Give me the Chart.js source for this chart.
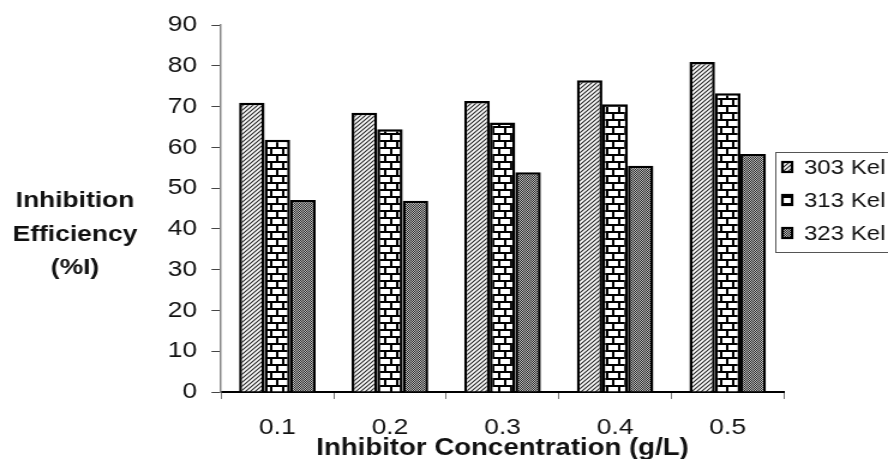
<!DOCTYPE html>
<html>
<head>
<meta charset="utf-8">
<script src="https://cdn.jsdelivr.net/npm/chart.js@4.4.1/dist/chart.umd.min.js"></script>
<style>
  html, body { margin:0; padding:0; background:#fff; overflow:hidden; }
  /* the source picture is stretched sideways, so the whole chart is too */
  #wrap { width:740px; height:459px; transform:scaleX(1.2); transform-origin:0 0; }
</style>
</head>
<body>
<div id="wrap"><canvas id="chart" width="740" height="459"></canvas></div>
<script>
const concentrations = ['0.1', '0.2', '0.3', '0.4', '0.5'];
const seriesNames = ['303 Kel', '313 Kel', '323 Kel'];
const eff303 = [71.0, 68.5, 71.4, 76.5, 81.0];
const eff313 = [61.9, 64.5, 66.1, 70.6, 73.3];
const eff323 = [47.1, 46.9, 53.9, 55.5, 58.4];
const yTicks = [0, 10, 20, 30, 40, 50, 60, 70, 80, 90];
const yTitleLines = ['Inhibition', 'Efficiency', '(%I)'];
const xTitle = 'Inhibitor Concentration (g/L)';

const FONT = '"Liberation Sans", Arial, sans-serif';
Chart.defaults.font.family = FONT;

// fill patterns
function makePattern(w, h, draw) {
  const c = document.createElement('canvas');
  c.width = w; c.height = h;
  const g = c.getContext('2d');
  g.fillStyle = '#fff';
  g.fillRect(0, 0, w, h);
  draw(g);
  return c.getContext('2d').createPattern(c, 'repeat');
}

const hatch = makePattern(4, 4, g => {
  g.strokeStyle = '#222';
  g.lineWidth = 1.1;
  g.beginPath();
  g.moveTo(-1, 5); g.lineTo(5, -1);
  g.moveTo(-1, 1); g.lineTo(1, -1);
  g.moveTo(3, 5); g.lineTo(5, 3);
  g.stroke();
});

const brick = makePattern(20, 14, g => {
  g.fillStyle = '#000';
  g.fillRect(0, 0, 20, 2);
  g.fillRect(0, 7, 20, 2);
  g.fillRect(0, 0, 2, 7);
  g.fillRect(10, 0, 2, 7);
  g.fillRect(5, 7, 2, 7);
  g.fillRect(15, 7, 2, 7);
});

const dots = makePattern(2, 2, g => {
  g.fillStyle = '#c4c4c4';
  g.fillRect(0, 0, 2, 2);
  g.fillStyle = '#222';
  g.fillRect(0, 0, 1, 1);
  g.fillRect(1, 1, 1, 1);
});

const fills = [hatch, brick, dots];
const seriesData = [eff303, eff313, eff323];

// horizontal, three-line y axis title
const yTitlePlugin = {
  id: 'yTitle',
  afterDraw(chart) {
    const ctx = chart.ctx;
    ctx.save();
    ctx.font = 'bold 22px ' + FONT;
    ctx.fillStyle = '#111';
    ctx.textAlign = 'center';
    ctx.textBaseline = 'middle';
    const ys = [201, 235, 268];
    yTitleLines.forEach((t, i) => ctx.fillText(t, 62.5, ys[i]));
    ctx.restore();
  }
};

// boxed legend at the right edge
const boxLegend = {
  id: 'boxLegend',
  afterDraw(chart) {
    const ctx = chart.ctx;
    ctx.save();
    ctx.strokeStyle = '#555';
    ctx.lineWidth = 1;
    ctx.strokeRect(646.5, 152.5, 120, 100);
    const ys = [167, 200, 233];
    chart.data.datasets.forEach((ds, i) => {
      ctx.fillStyle = ds.backgroundColor;
      ctx.fillRect(652, ys[i] - 5, 8, 10);
      ctx.lineWidth = 2.2;
      ctx.strokeStyle = '#000';
      ctx.strokeRect(652, ys[i] - 5, 8, 10);
      ctx.fillStyle = '#111';
      ctx.font = '20px ' + FONT;
      ctx.textAlign = 'left';
      ctx.textBaseline = 'middle';
      ctx.fillText(ds.label, 670, ys[i] + 1);
    });
    ctx.restore();
  }
};

new Chart(document.getElementById('chart'), {
  type: 'bar',
  data: {
    labels: concentrations,
    datasets: seriesNames.map((name, i) => ({
      label: name,
      data: seriesData[i],
      backgroundColor: fills[i],
      borderColor: '#000',
      borderWidth: 2.5
    }))
  },
  options: {
    responsive: false,
    animation: false,
    layout: { padding: { top: 24, right: 86.7, left: 0, bottom: 0 } },
    datasets: { bar: { categoryPercentage: 0.68, barPercentage: 1 } },
    plugins: { legend: { display: false }, tooltip: { enabled: false } },
    scales: {
      x: {
        grid: { drawOnChartArea: false, offset: true, tickLength: 7, color: '#777' },
        border: { color: '#000', width: 2 },
        ticks: { padding: 16, color: '#111', font: { size: 22 } },
        title: {
          display: true, text: xTitle, color: '#111',
          font: { size: 23, weight: 'bold' },
          padding: { top: 0, bottom: -3 }
        },
        afterFit(s) { s.height = 67; }
      },
      y: {
        min: 0, max: 90,
        afterBuildTicks(s) { s.ticks = yTicks.map(v => ({ value: v })); },
        ticks: { padding: 12, color: '#111', font: { size: 22 } },
        grid: { drawOnChartArea: false, tickLength: 8, color: '#444' },
        border: { color: '#888', width: 1.5 },
        afterFit(s) { s.width = 184.2; }
      }
    }
  },
  plugins: [yTitlePlugin, boxLegend]
});
</script>
</body>
</html>
